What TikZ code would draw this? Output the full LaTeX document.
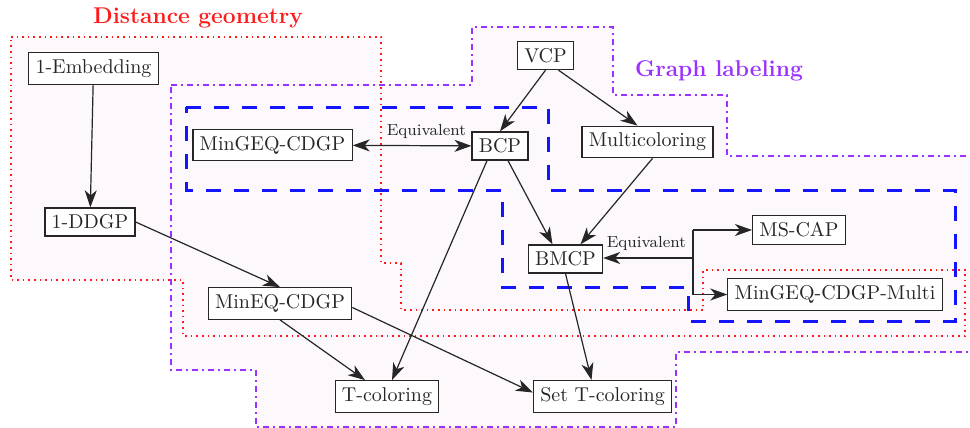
\documentclass[tikz,border=0pt]{standalone}
\usepackage{xcolor}
\definecolor{cDist}{HTML}{FF1A1A}
\definecolor{cGraph}{HTML}{9B30FF}
\definecolor{cEquiv}{HTML}{1414FF}
\definecolor{cLine}{HTML}{262626}
\definecolor{cTint}{HTML}{FCF8FC}
\usepackage{tikz}
\usetikzlibrary{arrows.meta}
\tikzset{
  node-box/.style={draw=cLine,semithick,fill=white,text=cLine,inner sep=3.4pt},
  edge-label/.style={font=\footnotesize,text=cLine},
  region-title/.style={font=\bfseries\fontsize{11.4}{14}\selectfont},
  % three kinds of regions: dotted / dash-dot / long dashes
  region-dist/.style={draw=cDist,thick,dotted},
  region-graph/.style={draw=cGraph,line width=1pt,dashdotted},
  region-equiv/.style={draw=cEquiv,line width=1.5pt,dash pattern=on 7.5pt off 6.5pt},
  arrow/.style={-{Stealth[length=8.5pt,width=6pt,inset=2.5pt]},semithick,draw=cLine},
  arrow-both/.style={{Stealth[length=8.5pt,width=6pt,inset=2.5pt]}-{Stealth[length=8.5pt,width=6pt,inset=2.5pt]},semithick,draw=cLine},
}

\begin{document}
\begin{tikzpicture}[x=0.5pt,y=-0.5pt]
  \useasboundingbox (0,0) rectangle (970,428);

  % regions
  \fill[cTint] (11,37) -- (381,37) -- (381,263) -- (401,263) -- (401,310) -- (703,310)
    -- (703,270) -- (965,270) -- (965,336) -- (183,336) -- (183,280) -- (11,280) -- cycle;
  \fill[cTint] (171,85) -- (472,85) -- (472,27) -- (613,27) -- (613,95) -- (727,95)
    -- (727,156) -- (975,156) -- (975,352) -- (676,352) -- (676,427) -- (256,427)
    -- (256,370) -- (171,370) -- cycle;
  \draw[region-dist] (11,37) -- (381,37) -- (381,263) -- (401,263) -- (401,310) -- (703,310)
    -- (703,270) -- (965,270) -- (965,336) -- (183,336) -- (183,280) -- (11,280) -- cycle;
  \draw[region-graph] (171,85) -- (472,85) -- (472,27) -- (613,27) -- (613,95) -- (727,95)
    -- (727,156) -- (975,156) -- (975,352) -- (676,352) -- (676,427) -- (256,427)
    -- (256,370) -- (171,370) -- cycle;
  \draw[region-equiv] (186,107) -- (548,107) -- (548,190) -- (955,190) -- (955,321)
    -- (688,321) -- (688,287) -- (502,287) -- (502,190) -- (186,190) -- cycle;

  \node[region-title,text=cDist] (title-dist) at (198,18) {Distance geometry};
  \node[region-title,text=cGraph] (title-graph) at (719,71) {Graph labeling};

  % problems
  \node[node-box] (emb) at (93.5,68.5) {1-Embedding};
  \node[node-box] (ddgp) at (90,222) {1-DDGP};
  \node[node-box] (mingeq) at (272.5,145) {MinGEQ-CDGP};
  \node[node-box] (bcp) at (500,146) {BCP};
  \node[node-box] (vcp) at (545.5,55.5) {VCP};
  \node[node-box] (multi) at (647.5,142) {Multicoloring};
  \node[node-box] (mscap) at (799,230) {MS-CAP};
  \node[node-box] (bmcp) at (565.5,259) {BMCP};
  \node[node-box] (mgmulti) at (835,294.5) {MinGEQ-CDGP-Multi};
  \node[node-box] (mineq) at (280,303.5) {MinEQ-CDGP};
  \node[node-box] (tcol) at (387,396.5) {T-coloring};
  \node[node-box] (settcol) at (602.5,396.5) {Set T-coloring};

  % reductions
  \draw[arrow] (emb) -- (ddgp);
  \draw[arrow] (ddgp.east) -- (mineq.north);
  \draw[arrow-both] (mingeq) -- node[edge-label,above,pos=0.62] (eq-left) {Equivalent} (bcp);
  \draw[arrow] (vcp.south) -- (bcp.north);
  \draw[arrow] ([xshift=6.5pt]vcp.south) -- ([xshift=-5pt]multi.north);
  \draw[arrow] ([xshift=4pt]bcp.south) -- ([xshift=-6.5pt]bmcp.north);
  \draw[arrow] ([xshift=2.5pt]multi.south) -- ([xshift=7.5pt]bmcp.north);
  \draw[arrow] ([xshift=-6.5pt]bcp.south) -- ([xshift=2.5pt]tcol.north);
  \draw[arrow] (mineq.south) -- ([xshift=-11pt]tcol.north);
  \draw[arrow] ([yshift=-2pt]mineq.east) -- ([yshift=2pt]settcol.west);
  \draw[arrow] (bmcp.south) -- ([xshift=-5.5pt]settcol.north);

  \coordinate (eqsplit) at (693,258);
  \draw[semithick,draw=cLine] (eqsplit |- mscap) -- (eqsplit |- mgmulti);
  \draw[arrow] (eqsplit) -- (eqsplit -| bmcp.east);
  \draw[arrow] (eqsplit |- mscap) -- (mscap.west);
  \draw[arrow] (eqsplit |- mgmulti) -- (mgmulti.west);
  \node[edge-label,above left] (eq-right) at (eqsplit) {Equivalent};
\end{tikzpicture}
\end{document}
